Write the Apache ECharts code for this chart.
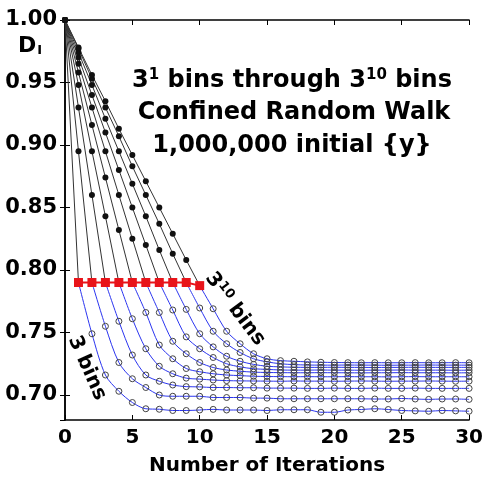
<!DOCTYPE html>
<html lang="en">
<head>
    <meta charset="UTF-8">
    <title>Confined Random Walk</title>
    <script src="https://cdn.jsdelivr.net/npm/echarts@6/dist/echarts.min.js"></script>
    <style>
        html, body { margin: 0; padding: 0; background: #fff; }
    </style>
</head>
<body>
    <div id="main" style="width: 486px; height: 481px"></div>
    <script>
        // iteration numbers (x)
        var iterations = [0, 1, 2, 3, 4, 5, 6, 7, 8, 9, 10, 11, 12, 13, 14, 15, 16, 17, 18, 19, 20,
            21, 22, 23, 24, 25, 26, 27, 28, 29, 30];
        // iteration where each curve hits the red marker (3^1 ... 3^10 bins)
        var switchAt = [1, 2, 3, 4, 5, 6, 7, 8, 9, 10];

        // D_I for 3^1 ... 3^10 bins, iterations 0..30
        var curve1 = [1.000, 0.790, 0.749, 0.716, 0.703, 0.694, 0.689, 0.6886, 0.6876, 0.6876, 0.688,
            0.6885, 0.688, 0.688, 0.688, 0.6876, 0.6882, 0.6882, 0.6882, 0.6862, 0.6862,
            0.688, 0.6884, 0.689, 0.6884, 0.6876, 0.6873, 0.687, 0.6876, 0.6873, 0.687];
        var curve2 = [1.000, 0.895, 0.790, 0.755, 0.726, 0.713, 0.706, 0.700, 0.699, 0.699, 0.699,
            0.698, 0.698, 0.698, 0.6975, 0.6975, 0.697, 0.697, 0.697, 0.697, 0.697,
            0.697, 0.697, 0.6968, 0.6968, 0.6972, 0.6968, 0.6965, 0.6968, 0.6968, 0.6965];
        var curve3 = [1.000, 0.930, 0.860, 0.790, 0.759, 0.732, 0.716, 0.711, 0.708, 0.7067, 0.7065,
            0.706, 0.706, 0.7058, 0.7058, 0.7055, 0.7055, 0.7055, 0.7053, 0.7053, 0.7055,
            0.7053, 0.7053, 0.7055, 0.7053, 0.7053, 0.7055, 0.7053, 0.7053, 0.7053, 0.7053];
        var curve4 = [1.000, 0.948, 0.895, 0.843, 0.790, 0.761, 0.737, 0.723, 0.717, 0.7135, 0.7127,
            0.712, 0.7115, 0.7113, 0.7112, 0.7111, 0.711, 0.7112, 0.7111, 0.7111, 0.711,
            0.7111, 0.7112, 0.7111, 0.711, 0.7111, 0.7111, 0.7112, 0.7111, 0.711, 0.7111];
        var curve5 = [1.000, 0.958, 0.916, 0.874, 0.832, 0.790, 0.766, 0.740, 0.729, 0.7212, 0.7186,
            0.717, 0.716, 0.7155, 0.715, 0.7148, 0.7147, 0.7146, 0.7147, 0.7146, 0.7146,
            0.7147, 0.7146, 0.7146, 0.7145, 0.7146, 0.7147, 0.7146, 0.7146, 0.7146, 0.7146];
        var curve6 = [1.000, 0.965, 0.930, 0.895, 0.860, 0.825, 0.790, 0.766, 0.743, 0.733, 0.726,
            0.722, 0.720, 0.719, 0.7183, 0.718, 0.7179, 0.7178, 0.7178, 0.7179, 0.7178,
            0.7178, 0.7177, 0.7178, 0.7178, 0.7179, 0.7178, 0.7178, 0.7178, 0.7177, 0.7178];
        var curve7 = [1.000, 0.970, 0.940, 0.910, 0.880, 0.850, 0.820, 0.790, 0.768, 0.7465, 0.737,
            0.730, 0.725, 0.7225, 0.721, 0.7205, 0.720, 0.7199, 0.7199, 0.720, 0.7199,
            0.7199, 0.7198, 0.7199, 0.7199, 0.720, 0.7199, 0.7199, 0.7199, 0.7198, 0.7199];
        var curve8 = [1.000, 0.974, 0.948, 0.921, 0.895, 0.869, 0.843, 0.816, 0.790, 0.7685, 0.749,
            0.7385, 0.731, 0.727, 0.7245, 0.723, 0.7225, 0.7222, 0.7221, 0.7221, 0.7222,
            0.7221, 0.7221, 0.722, 0.7221, 0.7221, 0.7222, 0.7221, 0.7221, 0.7221, 0.7221];
        var curve9 = [1.000, 0.977, 0.953, 0.930, 0.907, 0.883, 0.860, 0.837, 0.813, 0.790, 0.7696,
            0.751, 0.741, 0.734, 0.729, 0.7265, 0.725, 0.7243, 0.724, 0.7239, 0.7239,
            0.724, 0.7239, 0.7239, 0.7238, 0.7239, 0.7239, 0.724, 0.7239, 0.7239, 0.7239];
        var curve10 = [1.000, 0.978, 0.956, 0.935, 0.913, 0.892, 0.871, 0.850, 0.829, 0.808, 0.7875,
            0.769, 0.751, 0.741, 0.733, 0.729, 0.7275, 0.727, 0.7265, 0.7262, 0.726,
            0.7259, 0.7258, 0.7259, 0.7258, 0.7258, 0.7259, 0.7258, 0.7258, 0.7259, 0.7258];

        var curves = [curve1, curve2, curve3, curve4, curve5, curve6, curve7, curve8, curve9, curve10];

        var FONT = '"DejaVu Sans", Verdana, sans-serif';

        var series = [];
        curves.forEach(function (c, idx) {
            var s = switchAt[idx];
            // falling part: black line, filled dots
            series.push({
                type: 'line',
                data: iterations.slice(0, s + 1).map(function (i) { return [i, c[i]]; }),
                symbol: 'circle',
                symbolSize: 6,
                itemStyle: { color: '#111' },
                lineStyle: { color: '#333', width: 1 },
                z: 2
            });
            // relaxing part: blue line, open circles
            series.push({
                type: 'line',
                smooth: 0.3,
                data: iterations.slice(s).map(function (i, j) {
                    return j === 0 ? { value: [i, c[i]], symbol: 'none' } : [i, c[i]];
                }),
                symbol: 'circle',
                symbolSize: 6,
                itemStyle: { color: 'rgba(0,0,0,0)', borderColor: '#444', borderWidth: 1 },
                lineStyle: { color: '#2b35f0', width: 1 },
                z: 3
            });
        });
        // red switch-over markers
        series.push({
            type: 'line',
            data: switchAt.map(function (s, idx) { return [s, curves[idx][s]]; }),
            symbol: 'rect',
            symbolSize: 9,
            itemStyle: { color: '#e8141a' },
            lineStyle: { color: '#e8141a', width: 2 },
            z: 5
        });

        var tickStyle = { show: true, inside: true, length: 5, lineStyle: { color: '#000', width: 1 } };
        var lineStyle = { show: true, lineStyle: { color: '#000', width: 1.5 } };

        echarts.init(document.getElementById('main')).setOption({
            animation: false,
            backgroundColor: '#fff',
            grid: { left: 65, right: 16, top: 20, bottom: 59 },
            xAxis: [{
                type: 'value', min: 0, max: 30, interval: 5,
                axisLine: lineStyle, axisTick: tickStyle, splitLine: { show: false },
                axisLabel: { color: '#000', fontSize: 20, fontWeight: 'bold', fontFamily: FONT, margin: 8 },
                name: 'Number of Iterations', nameLocation: 'middle', nameGap: 36,
                nameTextStyle: { color: '#000', fontSize: 20, fontWeight: 'bold', fontFamily: FONT }
            }, {
                type: 'value', min: 0, max: 30, interval: 5, position: 'top',
                axisLine: lineStyle, axisTick: tickStyle, splitLine: { show: false },
                axisLabel: { show: false }
            }],
            yAxis: [{
                type: 'value', min: 0.68, max: 1.0, minInterval: 0.05, maxInterval: 0.05,
                axisLine: lineStyle, axisTick: tickStyle, splitLine: { show: false },
                axisLabel: {
                    color: '#000', fontSize: 21, fontWeight: 'bold', fontFamily: FONT, margin: 8,
                    showMinLabel: false,
                    formatter: function (v) {
                        return Math.abs(v * 20 - Math.round(v * 20)) < 1e-6 ? v.toFixed(2) : '';
                    }
                }
            }, {
                type: 'value', min: 0.68, max: 1.0, minInterval: 0.05, maxInterval: 0.05, position: 'right',
                axisLine: lineStyle, axisTick: tickStyle, splitLine: { show: false },
                axisLabel: { show: false }
            }],
            graphic: [
                {
                    type: 'text', x: 30, y: 46,
                    style: {
                        text: '{d|D}{s|I}', align: 'center', verticalAlign: 'middle',
                        rich: {
                            d: { fontSize: 22, fontWeight: 'bold', fontFamily: FONT, fill: '#000' },
                            s: { fontSize: 13, fontWeight: 'bold', fontFamily: FONT, fill: '#000', padding: [10, 0, 0, 1] }
                        }
                    }
                },
                {
                    type: 'text', x: 292, y: 81,
                    style: {
                        text: '{m|3}{p|1}{m| bins through 3}{p|10}{m| bins}', align: 'center', verticalAlign: 'middle',
                        rich: {
                            m: { fontSize: 24, fontWeight: 'bold', fontFamily: FONT, fill: '#000' },
                            p: { fontSize: 15, fontWeight: 'bold', fontFamily: FONT, fill: '#000', padding: [0, 0, 11, 0] }
                        }
                    }
                },
                {
                    type: 'text', x: 294, y: 113,
                    style: { text: 'Confined Random Walk', align: 'center', verticalAlign: 'middle',
                        font: 'bold 24px ' + FONT, fill: '#000' }
                },
                {
                    type: 'text', x: 292, y: 146,
                    style: { text: '1,000,000 initial {y}', align: 'center', verticalAlign: 'middle',
                        font: 'bold 24px ' + FONT, fill: '#000' }
                },
                {
                    type: 'text', x: 235, y: 309, rotation: -53 * Math.PI / 180,
                    style: {
                        text: '{m|3}{p|10}{m| bins}', align: 'center', verticalAlign: 'middle',
                        rich: {
                            m: { fontSize: 20, fontWeight: 'bold', fontFamily: FONT, fill: '#000' },
                            p: { fontSize: 13, fontWeight: 'bold', fontFamily: FONT, fill: '#000', padding: [0, 0, 9, 0] }
                        }
                    }
                },
                {
                    type: 'text', x: 87, y: 368, rotation: -66 * Math.PI / 180,
                    style: { text: '3 bins', align: 'center', verticalAlign: 'middle',
                        font: 'bold 20px ' + FONT, fill: '#000' }
                }
            ],
            series: series
        });
    </script>
</body>
</html>
